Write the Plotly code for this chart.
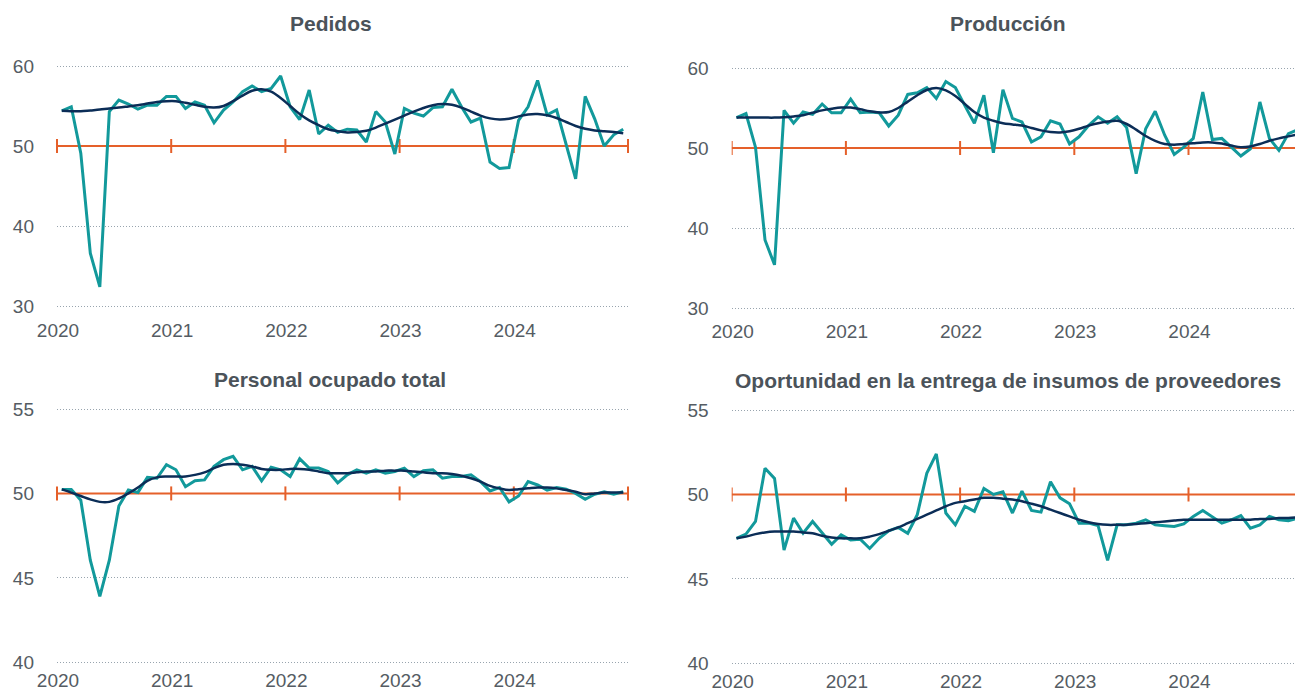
import plotly.graph_objects as go

# ---------------- data ----------------
years = ["2020", "2021", "2022", "2023", "2024"]

pedidos = [54.4, 54.9, 49.1, 36.6, 32.4, 54.3, 55.75, 55.25, 54.6, 55.1,
           55.1, 56.2, 56.2, 54.7, 55.5, 55.1, 52.9, 54.5, 55.5, 56.8,
           57.5, 56.8, 57.2, 58.75, 54.9, 53.3, 57.0, 51.5, 52.6, 51.7,
           52.1, 52.0, 50.5, 54.3, 53.0, 49.0, 54.7, 54.1, 53.75, 54.8,
           54.9, 57.1, 54.9, 53.0, 53.5, 48.0, 47.2, 47.3, 53.2, 54.9,
           58.2, 53.9, 54.5, 50.3, 45.9, 56.2, 53.4, 50.0, 51.4, 52.1]
pedidos_tend = [54.4, 54.35, 54.35, 54.45, 54.55, 54.7, 54.8, 54.95, 55.1, 55.3,
                55.5, 55.6, 55.6, 55.4, 55.15, 54.9, 54.8, 55.0, 55.6, 56.3,
                56.9, 57.1, 56.8, 56.0, 55.0, 54.0, 53.2, 52.6, 52.1, 51.85,
                51.7, 51.75, 51.9, 52.3, 52.8, 53.3, 53.8, 54.3, 54.75, 55.1,
                55.25, 55.15, 54.8, 54.3, 53.8, 53.45, 53.3, 53.4, 53.7, 53.95,
                54.0, 53.85, 53.5, 53.0, 52.5, 52.15, 51.95, 51.85, 51.75, 51.6]

produccion = [53.8, 54.3, 50.1, 38.5, 35.4, 54.7, 53.1, 54.5, 54.2, 55.5,
              54.4, 54.4, 56.1, 54.4, 54.5, 54.4, 52.75, 54.1, 56.7, 56.9,
              57.55, 56.2, 58.3, 57.55, 55.3, 53.1, 56.6, 49.4, 57.3, 53.7,
              53.25, 50.75, 51.4, 53.4, 53.0, 50.5, 51.4, 52.8, 53.9, 53.1,
              53.9, 52.55, 46.8, 52.4, 54.6, 51.6, 49.2, 50.1, 51.2, 57.0,
              51.05, 51.2, 50.1, 49.0, 49.9, 55.75, 51.2, 49.7, 51.8, 52.3]
produccion_tend = [53.8, 53.8, 53.8, 53.8, 53.8, 53.85, 53.95, 54.1, 54.4, 54.7,
                   54.9, 55.05, 55.05, 54.85, 54.6, 54.45, 54.5, 55.0, 55.8, 56.6,
                   57.25, 57.5, 57.2, 56.5, 55.5, 54.5, 53.8, 53.4, 53.1, 52.95,
                   52.8, 52.5, 52.2, 52.0, 51.95, 52.1, 52.4, 52.8, 53.1, 53.3,
                   53.4, 53.0, 52.3, 51.5, 50.9, 50.5, 50.4, 50.5, 50.6, 50.7,
                   50.7, 50.55, 50.3, 50.1, 50.2, 50.5, 50.9, 51.2, 51.45, 51.7]

personal = [50.24, 50.24, 49.6, 46.05, 43.9, 46.05, 49.25, 50.2, 50.06, 50.95,
            50.9, 51.7, 51.4, 50.4, 50.75, 50.8, 51.6, 52.0, 52.2, 51.4,
            51.6, 50.75, 51.55, 51.4, 51.0, 52.05, 51.5, 51.5, 51.3, 50.63,
            51.1, 51.4, 51.2, 51.4, 51.2, 51.3, 51.5, 51.0, 51.35, 51.4,
            50.9, 51.0, 51.0, 51.1, 50.7, 50.15, 50.35, 49.5, 49.85, 50.7,
            50.5, 50.2, 50.35, 50.25, 50.0, 49.65, 49.95, 50.1, 49.95, 50.1]
personal_tend = [50.24, 50.05, 49.85, 49.65, 49.5, 49.5, 49.7, 50.0, 50.35, 50.75,
                 50.95, 51.0, 51.0, 51.0, 51.1, 51.25, 51.5, 51.7, 51.75, 51.7,
                 51.6, 51.45, 51.4, 51.4, 51.45, 51.45, 51.4, 51.3, 51.2, 51.2,
                 51.2, 51.25, 51.3, 51.3, 51.35, 51.35, 51.35, 51.3, 51.25, 51.2,
                 51.2, 51.15, 51.05, 50.9, 50.7, 50.45, 50.3, 50.2, 50.25, 50.3,
                 50.35, 50.35, 50.3, 50.2, 50.1, 49.95, 50.0, 50.05, 50.05, 50.06]

oportunidad = [47.4, 47.65, 48.4, 51.55, 50.95, 46.7, 48.6, 47.7, 48.4, 47.7,
               47.05, 47.6, 47.3, 47.35, 46.8, 47.4, 47.85, 48.05, 47.7, 48.8,
               51.25, 52.4, 48.9, 48.2, 49.3, 49.0, 50.35, 50.0, 50.15, 48.9,
               50.2, 49.05, 48.95, 50.75, 49.8, 49.45, 48.3, 48.3, 48.15, 46.1,
               48.2, 48.2, 48.3, 48.5, 48.2, 48.15, 48.1, 48.25, 48.7, 49.05,
               48.65, 48.3, 48.5, 48.75, 48.0, 48.2, 48.7, 48.5, 48.45, 48.6]
oportunidad_tend = [47.4, 47.5, 47.65, 47.75, 47.8, 47.8, 47.8, 47.75, 47.7, 47.55,
                    47.45, 47.4, 47.4, 47.4, 47.5, 47.65, 47.85, 48.05, 48.3, 48.55,
                    48.8, 49.05, 49.3, 49.5, 49.6, 49.7, 49.8, 49.8, 49.75, 49.7,
                    49.6, 49.45, 49.3, 49.1, 48.9, 48.7, 48.5, 48.35, 48.25, 48.2,
                    48.2, 48.2, 48.25, 48.3, 48.35, 48.4, 48.45, 48.5, 48.5, 48.5,
                    48.5, 48.5, 48.5, 48.5, 48.5, 48.55, 48.55, 48.6, 48.6, 48.65]

titles = ["Pedidos", "Producción", "Personal ocupado total",
          "Oportunidad en la entrega de insumos de proveedores"]
umbral = 50

# ---------------- styling ----------------
W, H = 1295, 692
TEAL = "#12999b"
NAVY = "#0b2d57"
ORANGE = "#e5602a"
GRID = "#98a4ae"
TICK = "#555c63"
TITLE = "#4b535a"
FONT = "Liberation Sans, Arial, sans-serif"

n = len(pedidos)
x = list(range(n))
year_pos = [12 * k - 0.5 for k in range(len(years) + 1)]
label_pos = [12 * k - 0.4 for k in range(len(years))]

# panel pixel boxes: (x0, x1, ytop, ybottom)
panels = [
    dict(series=pedidos, trend=pedidos_tend, box=(57, 628, 66, 306), yr=(30, 60), dt=10,
         xr=(-0.5, 59.5), xstand=9),
    dict(series=produccion, trend=produccion_tend, box=(731.7, 1295, 68, 308), yr=(30, 60), dt=10,
         xr=(-0.5, 58.69), xstand=8),
    dict(series=personal, trend=personal_tend, box=(57, 628, 409, 662.3), yr=(40, 55), dt=5,
         xr=(-0.5, 59.5), xstand=3),
    dict(series=oportunidad, trend=oportunidad_tend, box=(731.7, 1295, 410, 663.3), yr=(40, 55), dt=5,
         xr=(-0.5, 58.69), xstand=3),
]
title_centers = [(331, 24), (1008, 24), (330, 379), (1008, 380)]

fig = go.Figure()
annotations = []
for k, p in enumerate(panels):
    sfx = "" if k == 0 else str(k + 1)
    xa, ya = "x" + sfx, "y" + sfx
    x0, x1, yt, yb = p["box"]
    lo, hi = p["yr"]
    # pad the range by ~1.5 px so the end grid lines are drawn
    pad = (hi - lo) / (yb - yt) * 1.5
    fig.update_layout(**{
        "xaxis" + sfx: dict(domain=[x0 / W, x1 / W], range=list(p["xr"]), anchor=ya,
                            showgrid=False, zeroline=False, showline=False, ticks="",
                            tickvals=label_pos, ticktext=years, automargin=False,
                            tickfont=dict(size=19, color=TICK, family=FONT),
                            ticklabelstandoff=p["xstand"], fixedrange=True),
        "yaxis" + sfx: dict(domain=[1 - (yb + 1.5) / H, 1 - (yt - 1.5) / H],
                            range=[lo - pad, hi + pad], anchor=xa,
                            tickvals=list(range(lo, hi + 1, p["dt"])),
                            showgrid=True, gridcolor=GRID, gridwidth=1, griddash="1px,2px",
                            zeroline=False, showline=False, ticks="", automargin=False,
                            tickfont=dict(size=19, color=TICK, family=FONT),
                            ticklabelstandoff=22, fixedrange=True),
    })
    # threshold line with year ticks
    fig.add_trace(go.Scatter(x=[year_pos[0], year_pos[-1]],
                             y=[umbral, umbral], mode="lines",
                             line=dict(color=ORANGE, width=2), xaxis=xa, yaxis=ya,
                             hoverinfo="skip", showlegend=False))
    fig.add_trace(go.Scatter(x=year_pos, y=[umbral] * len(year_pos), mode="markers",
                             marker=dict(symbol="line-ns-open", size=10, color=ORANGE,
                                         line=dict(color=ORANGE, width=2)),
                             xaxis=xa, yaxis=ya, cliponaxis=(k % 2 == 1),
                             hoverinfo="skip", showlegend=False))
    fig.add_trace(go.Scatter(x=x, y=p["series"], mode="lines",
                             line=dict(color=TEAL, width=3), xaxis=xa, yaxis=ya,
                             showlegend=False))
    fig.add_trace(go.Scatter(x=x, y=p["trend"], mode="lines", line_shape="spline",
                             line=dict(color=NAVY, width=2.5), xaxis=xa, yaxis=ya,
                             showlegend=False))
    cx, cy = title_centers[k]
    annotations.append(dict(text="<b>" + titles[k] + "</b>", xref="paper", yref="paper",
                            x=cx / W, y=1 - cy / H, xanchor="center", yanchor="middle",
                            showarrow=False, font=dict(size=21, color=TITLE, family=FONT)))

fig.update_layout(width=W, height=H, margin=dict(l=0, r=0, t=0, b=0, autoexpand=False),
                  paper_bgcolor="white", plot_bgcolor="white",
                  annotations=annotations, showlegend=False,
                  font=dict(family=FONT))
fig.write_html("out.html", config={"displayModeBar": False},
               post_script="document.body.style.margin='0';document.body.style.overflow='hidden';")
